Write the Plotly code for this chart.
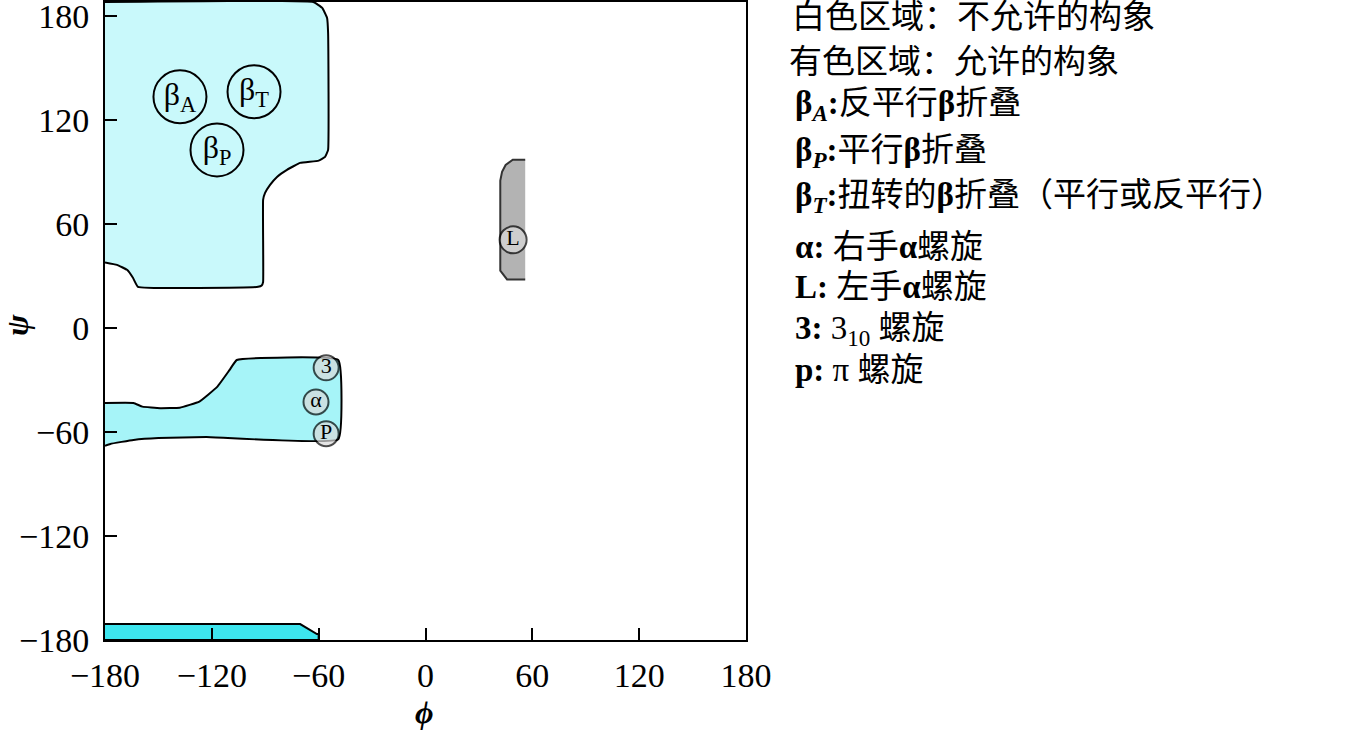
import plotly.graph_objects as go

# ---- data (phi, psi in degrees) ----
beta_phi = [-180, -63, -58, -55.3, -54.7, -54.7, -56.4, -60, -70.4, -77.8, -83.4, -87.3, -90.1, -91.2,
            -91.2, -92, -94, -161.5, -164.3, -167.6, -173.3, -180]
beta_psi = [188, 188, 184.6, 178.9, 170.2, 102.7, 98.7, 96.5, 95.2, 91.2, 87.1, 82.5, 77.9, 73.9,
            26.5, 24.5, 23.7, 23.7, 28.9, 33.5, 36.4, 37.8]

alpha_phi = [-180, -164, -159, -149, -138, -127, -117, -110, -106, -49, -49, -123, -150, -164, -177, -180]
alpha_psi = [-43.3, -43.3, -45.4, -46.3, -46, -42.5, -34, -24.2, -18.5, -18.5, -64.2, -62.9, -63.5,
             -64.6, -66.9, -68]

strip_phi = [-180, -70.4, -61, -60, -60, -180]
strip_psi = [-170.8, -170.8, -176.6, -176.6, -180, -180]

left_phi = [56, 49, 45, 43, 42, 42, 45.8, 56]
left_psi = [97, 97, 94, 90, 85, 33, 28, 28]

beta_lbl = ["β<sub>A</sub>", "β<sub>T</sub>", "β<sub>P</sub>"]
beta_lbl_phi = [-137.9, -96.3, -117.1]
beta_lbl_psi = [133.3, 136.2, 102.7]

helix_lbl = ["3", "α", "P", "L"]
helix_phi = [-55.8, -61.5, -55.8, 49.2]
helix_psi = [-23, -42.7, -61, 50.8]

tick_vals = [-180, -120, -60, 0, 60, 120, 180]

legend_lines = [
    "白色区域：不允许的构象",
    "有色区域：允许的构象",
    "<b>β<sub><i>A</i></sub>:</b>反平行<b>β</b>折叠",
    "<b>β<sub><i>P</i></sub>:</b>平行<b>β</b>折叠",
    "<b>β<sub><i>T</i></sub>:</b>扭转的<b>β</b>折叠（平行或反平行）",
    "<b>α:</b> 右手<b>α</b>螺旋",
    "<b>L:</b> 左手<b>α</b>螺旋",
    "<b>3:</b> 3<sub>10</sub> 螺旋",
    "<b>p:</b> π 螺旋",
]
legend_py = [17, 62, 105, 152, 197, 247, 287, 330, 370]
legend_px = [790, 787, 793, 793, 793, 793, 793, 793, 793]

SERIF = "Liberation Serif, Noto Sans CJK SC"
CJK = "Liberation Serif, Noto Sans CJK SC"

fig = go.Figure()

fig.add_trace(go.Scatter(x=beta_phi, y=beta_psi, fill="toself", fillcolor="#c9f9fb",
                         mode="lines", line=dict(color="black", width=2, shape="spline", smoothing=0.3),
                         hoverinfo="skip"))
fig.add_trace(go.Scatter(x=alpha_phi, y=alpha_psi, fill="toself", fillcolor="#a6f4f8",
                         mode="lines", line=dict(color="black", width=2, shape="spline", smoothing=0.3),
                         hoverinfo="skip"))
fig.add_trace(go.Scatter(x=strip_phi, y=strip_psi, fill="toself", fillcolor="#3de5ee",
                         mode="lines", line=dict(color="black", width=2), hoverinfo="skip"))
fig.add_trace(go.Scatter(x=left_phi, y=left_psi, fill="toself", fillcolor="#b3b3b3",
                         mode="lines", line=dict(color="#333333", width=2), hoverinfo="skip"))

fig.add_trace(go.Scatter(x=beta_lbl_phi, y=beta_lbl_psi, mode="markers+text", text=beta_lbl,
                         textposition="middle center",
                         textfont=dict(family=SERIF, size=32, color="black"),
                         marker=dict(size=53, color="rgba(0,0,0,0)", line=dict(color="black", width=2)),
                         hoverinfo="skip"))
fig.add_trace(go.Scatter(x=helix_phi, y=helix_psi, mode="markers+text", text=helix_lbl,
                         textposition="middle center",
                         textfont=dict(family=SERIF, size=22, color="black"),
                         marker=dict(size=[25, 25, 25, 27], color="#dadada", line=dict(color="black", width=2)),
                         hoverinfo="skip"))

L, R, T, B = 105, 746, 2, 640
W, H = 1370, 730
for txt, px, py in zip(legend_lines, legend_px, legend_py):
    fig.add_annotation(text=txt, x=(px - L) / (R - L), y=(B - py) / (B - T), xref="paper", yref="paper",
                       xanchor="left", yanchor="middle", showarrow=False,
                       font=dict(family=CJK, size=33, color="black"))

fig.add_annotation(text="<b><i>ϕ</i></b>", x=(424 - L) / (R - L), y=(B - 712) / (B - T),
                   xref="paper", yref="paper", showarrow=False, xanchor="center", yanchor="middle",
                   font=dict(family=SERIF, size=32, color="black"))
fig.add_annotation(text="<b><i>ψ</i></b>", x=(17 - L) / (R - L), y=(B - 325) / (B - T),
                   xref="paper", yref="paper", showarrow=False, textangle=-90,
                   xanchor="center", yanchor="middle",
                   font=dict(family=SERIF, size=32, color="black"))

axis_common = dict(showgrid=False, zeroline=False, showline=True, linecolor="black", linewidth=2,
                   mirror=True, ticks="inside", ticklen=12, tickwidth=2, tickcolor="black",
                   tickfont=dict(family=SERIF, size=34, color="black"), tickvals=tick_vals,
                   ticklabeloverflow="allow", automargin=False)

fig.update_xaxes(range=[-180, 180], ticklabelstandoff=4, **axis_common)
fig.update_yaxes(range=[-180, 188], ticklabelstandoff=7, **axis_common)

fig.update_layout(width=W, height=H, margin=dict(l=L, r=W - R, t=T, b=H - B),
                  plot_bgcolor="white", paper_bgcolor="white", showlegend=False)

fig.write_html("out.html")
